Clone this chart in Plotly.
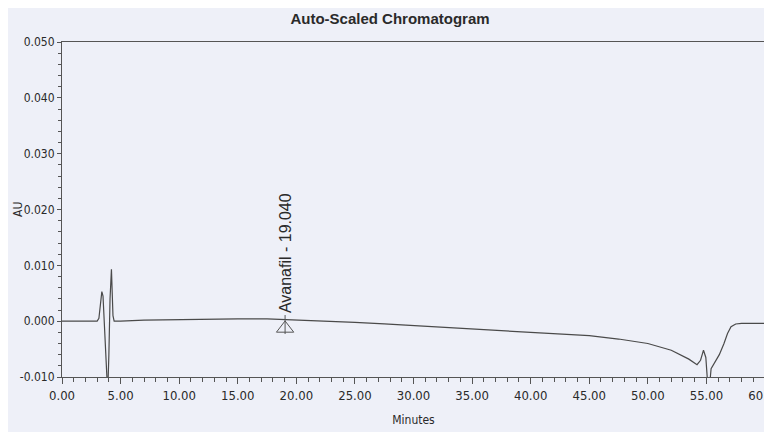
import plotly.graph_objects as go

# Chromatogram trace (minutes, AU)
minutes = [0, 1, 2, 3.0, 3.15, 3.3, 3.4, 3.5, 3.65, 3.8, 3.9, 4.0, 4.1, 4.22, 4.35, 4.45,
           5, 7, 10, 12.5, 15, 17.5, 19.04, 20, 22.5, 25, 27.5, 30, 32.5, 35, 37.5, 40,
           42.5, 45, 47.5, 50, 52, 53.5, 54.2, 54.5, 54.75, 54.95, 55.1, 55.25, 55.4,
           55.7, 56.1, 56.5, 56.8, 57.1, 57.5, 58, 59, 60]
au = [0, 0, 0, 0, 0.0005, 0.004, 0.0053, 0.0045, -0.002, -0.009, -0.013, -0.006, 0.004,
      0.0093, 0.001, 0, 0, 0.0002, 0.0003, 0.0004, 0.0004, 0.0004, 0.0003, 0.0002, 0,
      -0.0002, -0.0005, -0.0008, -0.001, -0.0013, -0.0016, -0.0019, -0.0022, -0.0026,
      -0.0032, -0.004, -0.0052, -0.0068, -0.0078, -0.007, -0.0052, -0.0065, -0.011,
      -0.012, -0.0085, -0.0075, -0.006, -0.004, -0.0022, -0.001, -0.0005, -0.0004,
      -0.0004, -0.0004]

peak_name = "Avanafil"
peak_rt = 19.04

x_ticks = [0, 5, 10, 15, 20, 25, 30, 35, 40, 45, 50, 55, 60]
y_ticks = [-0.010, 0.000, 0.010, 0.020, 0.030, 0.040, 0.050]

font_family = "Liberation Sans Narrow, Arial Narrow, DejaVu Sans Condensed, Liberation Sans, Arial, sans-serif"
ink = "#2a2a2a"
axis_col = "#555555"
bg = "#eef0f8"

fig = go.Figure()
fig.add_trace(go.Scatter(x=minutes, y=au, mode="lines",
                         line=dict(color="#4a4a4a", width=1.2),
                         hoverinfo="skip", showlegend=False))

# Peak marker (drop line + triangle)
fig.add_trace(go.Scatter(x=[peak_rt, peak_rt], y=[0.0011, -0.0023], mode="lines",
                         line=dict(color=axis_col, width=1), showlegend=False, hoverinfo="skip"))
fig.add_trace(go.Scatter(x=[peak_rt], y=[-0.0013], mode="markers",
                         marker=dict(symbol="triangle-up-open", size=15, color=axis_col,
                                     line=dict(color=axis_col, width=1)),
                         showlegend=False, hoverinfo="skip"))
fig.add_annotation(x=peak_rt, y=0.0011, xref="x", yref="y",
                   text=f"{peak_name} - {peak_rt:.3f}", textangle=-90,
                   showarrow=False, xanchor="center", yanchor="bottom",
                   font=dict(family="Liberation Sans, Arial, sans-serif", size=16, color=ink))

# y-axis title placed as an annotation left of the tick labels
fig.add_annotation(x=-0.0633, y=0.5, xref="paper", yref="paper", text="AU",
                   textangle=-90, showarrow=False, xanchor="center", yanchor="middle",
                   borderpad=0,
                   font=dict(family=font_family, size=12, color=ink))

# page body adds an 8px offset, so the figure is sized to fill the rest of the window
fig.update_layout(
    width=764, height=424,
    margin=dict(l=54, r=7, t=34, b=55),
    paper_bgcolor=bg, plot_bgcolor=bg,
    title=dict(text="<b>Auto-Scaled Chromatogram</b>", x=0.5, xanchor="center",
               y=0.987, yanchor="top",
               font=dict(family="Liberation Sans, Arial, sans-serif", size=15, color=ink)),
    font=dict(family=font_family, color=ink, size=13),
    xaxis=dict(range=[0, 60], tickvals=x_ticks, ticktext=[f"{v:.2f}" for v in x_ticks],
               automargin=False, ticklabeloverflow="allow",
               showgrid=False, zeroline=False, showline=True, linecolor=axis_col,
               linewidth=1, mirror=True, ticks="outside", ticklen=6, tickcolor=axis_col,
               minor=dict(ticks="outside", dtick=1, ticklen=4, tickcolor=axis_col),
               title=dict(text="Minutes", font=dict(size=12), standoff=14),
               tickfont=dict(size=13)),
    yaxis=dict(range=[-0.010, 0.050], tickvals=y_ticks, ticktext=[f"{v:.3f}" for v in y_ticks],
               automargin=False, ticklabeloverflow="allow",
               showgrid=False, zeroline=False, showline=True, linecolor=axis_col,
               linewidth=1, mirror=True, ticks="outside", ticklen=4, tickcolor=axis_col,
               minor=dict(ticks="outside", dtick=0.002, ticklen=3, tickcolor=axis_col),
               tickfont=dict(size=12)),
)

fig.write_html("out.html")
